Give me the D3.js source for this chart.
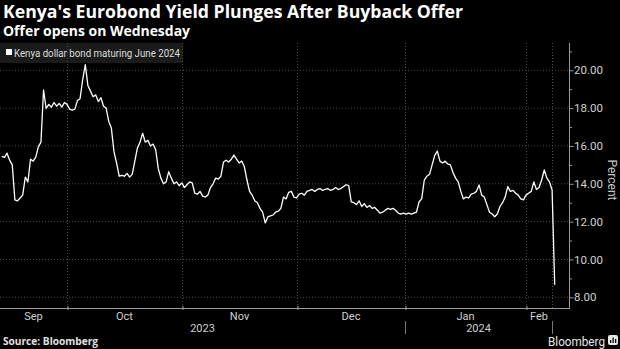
<!DOCTYPE html>
<html><head><meta charset="utf-8">
<script src="https://cdn.jsdelivr.net/npm/d3@7"></script>
<style>html,body{margin:0;padding:0;background:#000;} svg{display:block;}</style>
</head><body><svg id="c" width="620" height="349"></svg>
<script>
// Kenya dollar bond maturing June 2024 yield, half trading-day steps from mid-Sep 2023 to Feb 2024
const yields = [
15.45,15.4,15.62,15.25,15.0,13.15,13.1,13.25,13.4,14.35,
14.1,15.3,15.2,15.4,15.95,16.2,18.96,17.98,18.2,18.05,
18.3,18.1,18.25,18.05,18.3,18.2,17.95,17.9,17.95,18.4,
18.5,19.5,20.3,19.2,18.9,18.6,18.7,18.35,18.55,18.1,
18.0,17.3,16.95,15.7,15.1,14.4,14.45,14.4,14.55,14.35,
14.5,15.2,15.9,16.2,16.67,16.2,16.3,16.0,16.1,15.8,
14.8,14.3,14.0,14.1,14.64,14.3,14.0,14.1,13.9,14.05,
13.8,13.95,14.1,14.05,13.5,13.45,13.6,13.35,13.3,13.4,
13.8,14.0,14.3,14.25,14.4,15.15,15.25,15.15,15.3,15.52,
15.3,15.1,15.2,14.9,14.2,13.6,13.4,13.1,13.0,12.7,
12.5,11.93,12.25,12.3,12.35,12.5,12.55,12.7,13.3,13.2,
13.55,13.6,13.3,13.25,13.45,13.5,13.4,13.6,13.65,13.7,
13.6,13.7,13.75,13.65,13.7,13.75,13.65,13.7,13.8,13.7,
13.75,13.85,13.95,13.9,13.05,13.0,12.9,13.1,12.8,12.95,
12.75,12.85,12.7,12.75,12.6,12.45,12.5,12.6,12.7,12.65,
12.7,12.6,12.45,12.4,12.45,12.4,12.45,12.4,12.45,12.5,
13.05,13.2,14.2,14.4,14.5,15.0,15.5,15.73,15.2,15.1,
15.2,15.05,15.0,14.6,14.3,14.1,13.6,13.2,13.3,13.25,
13.45,13.5,13.6,13.94,13.4,13.3,12.9,12.5,12.4,12.26,
12.4,12.8,13.0,13.3,13.85,13.6,13.65,13.5,13.4,13.2,
13.15,13.4,13.5,13.6,14.1,13.7,13.8,14.2,14.73,14.3,
14.1,13.67,8.66
];
const monthLabels = ["Sep","Oct","Nov","Dec","Jan","Feb"];
const monthBounds = [-0.7, 25, 69.1, 113.2, 154.6, 201, 211];
const yearLabels = ["2023","2024"];
const yearBounds = [-0.7, 154.6, 211];
const yMajor = [8,10,12,14,16,18,20];
const yMinor = [9,11,13,15,17,19,21];

const svg = d3.select("#c");
svg.append("rect").attr("width",620).attr("height",349).attr("fill","#000");

const plotTop = 43, plotBottom = 308, axisX = 569;
const x = d3.scaleLinear().domain([-0.7, 212]).range([0, 554.7]);
const y = d3.scaleLinear().domain([8, 20]).range([297.3, 70.3]);

// legend box
svg.append("rect").attr("x",0).attr("y",43).attr("width",183).attr("height",20).attr("fill","#1b1b1b");

// grid
svg.append("g").selectAll("line").data(yMajor).join("line")
  .attr("x1",0).attr("x2",axisX).attr("y1",d=>y(d)).attr("y2",d=>y(d))
  .attr("stroke","#4a4a4a").attr("stroke-width",1).attr("stroke-dasharray","1,2");
svg.append("g").selectAll("line").data(monthBounds.slice(1)).join("line")
  .attr("x1",d=>Math.round(x(d))+0.5).attr("x2",d=>Math.round(x(d))+0.5).attr("y1",plotTop).attr("y2",plotBottom)
  .attr("stroke","#4a4a4a").attr("stroke-width",1).attr("stroke-dasharray","1,2");

// legend content
svg.append("rect").attr("x",6).attr("y",49).attr("width",6).attr("height",6).attr("fill","#fff");
svg.append("text").attr("x",14).attr("y",56.5).attr("fill","#ddd")
  .attr("font-family","Roboto, 'Noto Sans', sans-serif").attr("font-size",10)
  .attr("textLength",166).attr("lengthAdjust","spacingAndGlyphs")
  .text("Kenya dollar bond maturing June 2024");

// line
svg.append("path").datum(yields)
  .attr("d", d3.line().x((d,i)=>x(i)).y(d=>y(d)))
  .attr("fill","none").attr("stroke","#fff").attr("stroke-width",1.3).attr("stroke-linejoin","round");

// y axis
svg.append("line").attr("x1",axisX+0.5).attr("x2",axisX+0.5).attr("y1",plotTop).attr("y2",plotBottom)
  .attr("stroke","#9a9a9a");
const yAx = svg.append("g").attr("transform",`translate(${axisX+0.5},0)`)
  .call(d3.axisRight(y).tickValues(yMajor).tickFormat(d3.format(".2f")).tickSize(4).tickPadding(0.5));
yAx.select(".domain").remove();
yAx.selectAll("line").attr("stroke","#9a9a9a");
yAx.selectAll("text").attr("fill","#d0d0d0").attr("font-family","Roboto, sans-serif").attr("font-size",11.5);
const yMin = svg.append("g").attr("transform",`translate(${axisX+0.5},0)`)
  .call(d3.axisRight(y).tickValues(yMinor).tickFormat("").tickSize(2.5));
yMin.select(".domain").remove();
yMin.selectAll("line").attr("stroke","#9a9a9a");

svg.append("text").attr("transform","translate(611,180) rotate(90)").attr("text-anchor","middle")
  .attr("dominant-baseline","middle")
  .attr("fill","#c8c8c8").attr("font-family","Roboto, sans-serif").attr("font-size",12).text("Percent");

// x axis
svg.append("line").attr("x1",0).attr("x2",axisX+1).attr("y1",plotBottom+0.5).attr("y2",plotBottom+0.5).attr("stroke","#9a9a9a");
const xAx = svg.append("g").attr("transform",`translate(0,${plotBottom})`)
  .call(d3.axisBottom(x).tickValues(monthBounds.slice(1,6)).tickFormat("").tickSize(4));
xAx.select(".domain").remove();
xAx.selectAll("line").attr("stroke","#9a9a9a").attr("transform",d=>`translate(${Math.round(x(d))+0.5-x(d)},-2)`);

svg.append("g").selectAll("text").data(monthLabels).join("text")
  .attr("x",(d,i)=>(x(monthBounds[i])+x(monthBounds[i+1]))/2).attr("y",319.5)
  .attr("text-anchor","middle").attr("fill","#d0d0d0")
  .attr("font-family","Roboto, sans-serif").attr("font-size",11).text(d=>d);

svg.append("g").selectAll("text").data(yearLabels).join("text")
  .attr("x",(d,i)=>(x(yearBounds[i])+x(yearBounds[i+1]))/2).attr("y",332)
  .attr("text-anchor","middle").attr("fill","#d0d0d0")
  .attr("font-family","Roboto, sans-serif").attr("font-size",11).text(d=>d);
svg.append("g").selectAll("line").data(yearBounds.slice(1)).join("line")
  .attr("x1",d=>Math.round(x(d))+0.5).attr("x2",d=>Math.round(x(d))+0.5).attr("y1",321).attr("y2",334)
  .attr("stroke","#777");

// titles
svg.append("text").attr("x",3).attr("y",18).attr("fill","#fff")
  .attr("font-family","'Open Sans', 'DejaVu Sans', sans-serif").attr("font-weight","bold").attr("font-size",17)
  .attr("textLength",460).attr("lengthAdjust","spacingAndGlyphs")
  .text("Kenya's Eurobond Yield Plunges After Buyback Offer");
svg.append("text").attr("x",3).attr("y",36).attr("fill","#fff")
  .attr("font-family","'Open Sans', 'DejaVu Sans', sans-serif").attr("font-weight","bold").attr("font-size",13.5)
  .attr("textLength",187).attr("lengthAdjust","spacingAndGlyphs")
  .text("Offer opens on Wednesday");

// footer
svg.append("text").attr("x",3).attr("y",345).attr("fill","#e0e0e0")
  .attr("font-family","'Open Sans', sans-serif").attr("font-weight","bold").attr("font-size",10)
  .attr("textLength",95).attr("lengthAdjust","spacingAndGlyphs").text("Source: Bloomberg");
svg.append("text").attr("x",548).attr("y",345.5).attr("fill","#e8e8e8")
  .attr("font-family","Roboto, sans-serif").attr("font-size",12.5)
  .attr("textLength",57).attr("lengthAdjust","spacingAndGlyphs").text("Bloomberg");
const ic = svg.append("g").attr("transform","translate(608,335)");
ic.append("rect").attr("width",10).attr("height",10).attr("rx",2).attr("fill","#e8e8e8");
[[2,5],[4.5,2.5],[7,4]].forEach(([bx,by])=>ic.append("rect").attr("x",bx).attr("y",by).attr("width",1.3).attr("height",8-by).attr("fill","#000"));
</script></body></html>
